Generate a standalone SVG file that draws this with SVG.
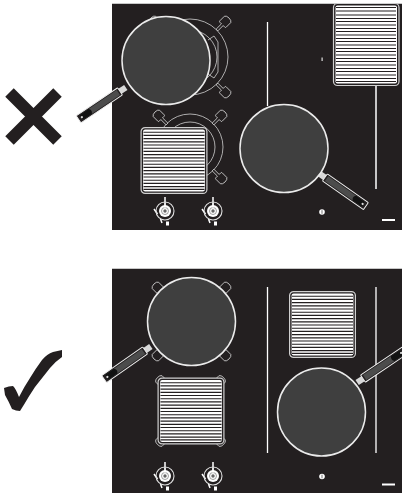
<svg xmlns="http://www.w3.org/2000/svg" width="402" height="493" viewBox="0 0 402 493">
<style>
.panel{fill:#231f20}
.edge{fill:#c8c8c8}
.pan{fill:#3f3f3f;stroke:#ebebeb;stroke-width:1.5}
.wire{fill:none;stroke:#d0d0d0;stroke-width:.8}
.bar{stroke:#fff;stroke-width:1.3;fill:none}
.frame{fill:#231f20;stroke:#d0d0d0;stroke-width:1.2}
.plate{fill:#fff}
.grid{stroke:#231f20;stroke-width:1.15;fill:none}
.arm{fill:#231f20;stroke:#d8d8d8;stroke-width:.8;stroke-linejoin:round}
</style>
<defs>
<g id="griddle"><rect class="frame" x=".6" y=".6" width="65.800" height="65.800" rx="4"/><rect class="plate" x="2.600" y="2.600" width="61.800" height="61.800" rx="2"/>
<path class="grid" d="M3 5.200H64M3 8.400H64M3 11.600H64M3 14.800H64M3 18H64M3 21.200H64M3 24.400H64M3 27.600H64M3 30.800H64M3 34H64M3 37.200H64M3 40.400H64M3 43.600H64M3 46.800H64M3 50H64M3 53.200H64M3 56.400H64M3 59.600H64M3 62.400H64"/></g>
<g id="handle">
<rect x="-1" y="-3" width="7" height="6" fill="#d8d8d8"/>
<rect x="6" y="-4.300" width="50" height="8.600" rx=".8" fill="#231f20" stroke="#f0f0f0" stroke-width="1"/>
<rect x="8" y="-3" width="45" height="6" fill="#4c4c4c"/>
<path d="M42-3H53V3H42Q39 0 42-3Z" fill="#111"/>
<circle cx="52" cy="0" r="1.100" fill="#ddd"/>
</g>
<g id="knob">
<path d="M0-14V-5M-11-2-7.500 3M-4.500 8-3 12" stroke="#fff" stroke-width="1.500" fill="none"/>
<circle r="9" fill="none" stroke="#e0e0e0" stroke-width="1.100"/>
<circle r="6" fill="#fff"/>
<circle r="3.500" fill="none" stroke="#777" stroke-width=".7"/>
<circle r="1.700" fill="#666"/>
<path d="M0-8V-3" stroke="#fff" stroke-width="1"/>
<rect x="1" y="10.500" width="3" height="4" fill="#fff"/>
</g>
<path id="armShape" d="M0-1.200H7.500V-3.500Q7.500-4.500 8.500-4.500H15Q17-3.500 17 0 17 3.500 15 4.500H8.500Q7.500 4.500 7.500 3.500V1.200H0Z"/>
<g id="power"><circle r="2.800" fill="#fff"/><path d="M0-1.800V1.800" stroke="#333" stroke-width=".7"/></g>
</defs>
<rect width="402" height="493" fill="#fff"/>

<g id="cross"><path d="M9.500 92.500 57.500 140.500M57.500 92.500 9.500 140.500" stroke="#231f20" stroke-width="12" fill="none"/></g>
<g id="check"><path d="M4 388Q9 386 13 386 16 389 19 397 24 387 30 378 36 368 42 360 47 354 53 352L62 350V357Q56 361 50 368L35 387Q29 396 25 403L20 411Q16 411 12 409 9 402 5 395Z" fill="#231f20"/></g>

<g id="hob-wrong">
<rect class="panel" x="112" y="3" width="290" height="227"/>
<rect class="edge" x="112" y="3" width="290" height="1"/>
<g id="burner-top">
<circle class="wire" cx="190" cy="57" r="38"/>
<circle class="wire" cx="190" cy="57" r="27"/>
<path class="wire" d="M208 40 214 36 218 42V72L214 78 208 74"/>
<use href="#armShape" class="arm" transform="translate(217 30)rotate(-45)"/>
<use href="#armShape" class="arm" transform="translate(217 84)rotate(45)"/>
<use href="#armShape" class="arm" transform="translate(163 30)rotate(-135)"/>
</g>
<g id="burner-bottom">
<circle class="wire" cx="190" cy="147" r="33"/>
<circle class="wire" cx="190" cy="147" r="25"/>
<use href="#armShape" class="arm" transform="translate(167 124)rotate(-135)"/>
<use href="#armShape" class="arm" transform="translate(213 124)rotate(-45)"/>
<use href="#armShape" class="arm" transform="translate(213 170)rotate(45)"/>
</g>
<g id="pan-top"><use href="#handle" transform="translate(125 88)rotate(146)"/><circle class="pan" cx="166" cy="60.500" r="44"/></g>
<g id="griddle-left"><use href="#griddle" transform="translate(140.500 127)"/></g>
<g id="knobs-top"><use href="#knob" transform="translate(165 211)"/><use href="#knob" transform="translate(213 211)"/></g>
<path class="bar" d="M267.500 22V106"/>
<rect x="321.500" y="57.500" width="1.200" height="3.500" fill="#ddd"/>
<path d="M376 86V189" stroke="#fff" stroke-width="1.500"/>
<g id="griddle-right"><rect class="frame" x="333.500" y="3.500" width="65.500" height="82" rx="4"/><rect class="plate" x="335.500" y="5.500" width="61.500" height="78" rx="2"/><path class="grid" d="M336 7.500H396M336 11H396M336 15H396M336 18.500H396M336 21.500H396M336 25H396M336 28.500H396M336 31.500H396M336 35H396M336 38.500H396M336 41.500H396M336 45H396M336 48.500H396M336 51.500H396M336 55H396M336 58.500H396M336 61.500H396M336 65H396M336 68.500H396M336 71.500H396M336 75H396M336 78.500H396M336 81.500H396"/></g>
<g id="pan-right"><use href="#handle" transform="translate(320 174)rotate(35)"/><circle class="pan" cx="284" cy="148.500" r="44"/></g>
<use href="#power" transform="translate(322 212)"/>
<rect x="382" y="219" width="13" height="2" fill="#fff"/>
</g>

<g id="hob-right">
<rect class="panel" x="112" y="268" width="290" height="225"/>
<rect class="edge" x="112" y="268" width="290" height="1"/>
<g id="supports">
<use href="#armShape" class="arm" transform="translate(166 296)rotate(-135)"/>
<use href="#armShape" class="arm" transform="translate(217 296)rotate(-45)"/>
<use href="#armShape" class="arm" transform="translate(166 347)rotate(135)"/>
<use href="#armShape" class="arm" transform="translate(217 347)rotate(45)"/>
<use href="#armShape" class="arm" transform="translate(169.500 389.500)rotate(-135)"/>
<use href="#armShape" class="arm" transform="translate(211.500 389.500)rotate(-45)"/>
<use href="#armShape" class="arm" transform="translate(169.500 432.500)rotate(135)"/>
<use href="#armShape" class="arm" transform="translate(211.500 432.500)rotate(45)"/>
</g>
<g id="pan-left"><use href="#handle" transform="translate(150 347)rotate(145)"/><circle class="pan" cx="191.500" cy="321.500" r="44"/></g>
<g id="griddle-centre"><use href="#griddle" transform="translate(157.500 377.500)"/></g>
<g id="griddle-top"><use href="#griddle" transform="translate(289 291)"/></g>
<path class="bar" d="M267.500 287V453M376 287V453"/>
<g id="pan-low"><use href="#handle" transform="translate(358 382)rotate(-34)"/><circle class="pan" cx="321.500" cy="412" r="44"/></g>
<g id="knobs-bottom"><use href="#knob" transform="translate(165 476)"/><use href="#knob" transform="translate(213 476)"/></g>
<use href="#power" transform="translate(322 476.500)"/>
<rect x="382" y="483.500" width="13" height="2" fill="#fff"/>
</g>
</svg>
